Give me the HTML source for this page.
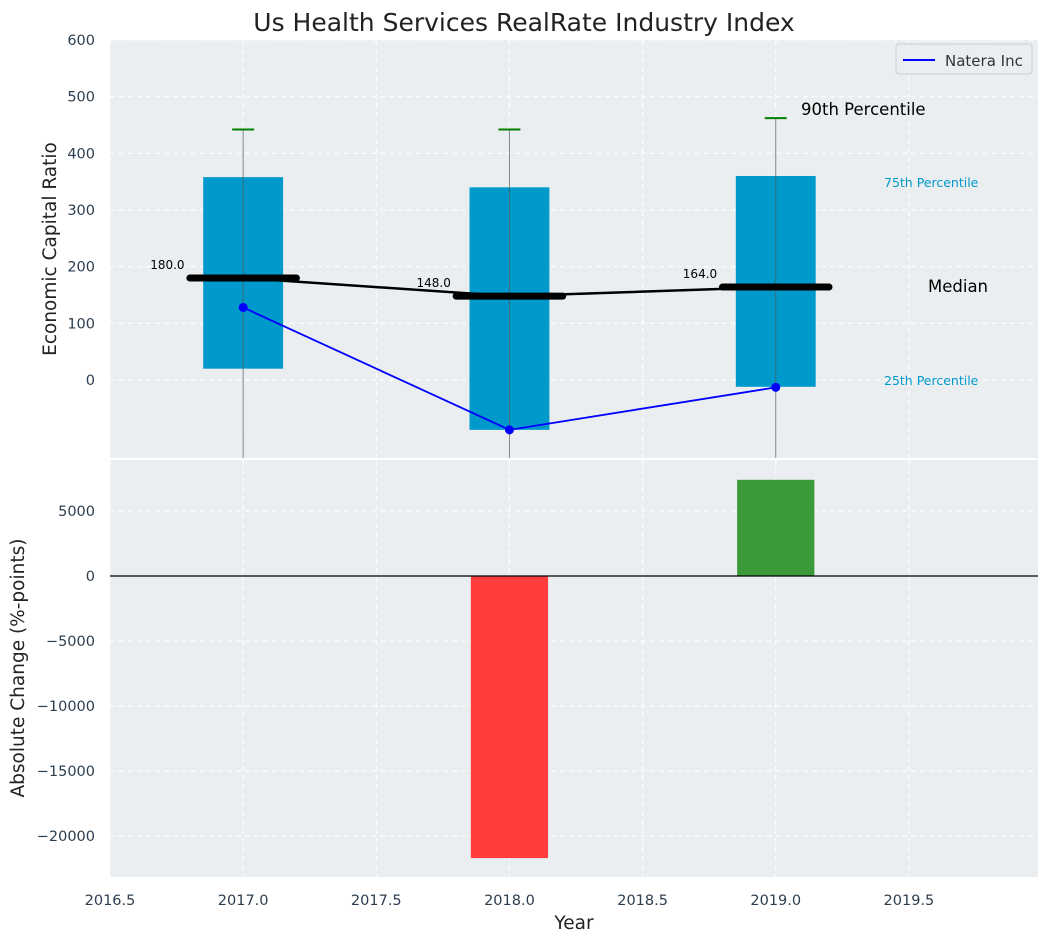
<!DOCTYPE html>
<html><head><meta charset="utf-8"><style>
body{margin:0;background:#fff;font-family:"Liberation Sans","DejaVu Sans",sans-serif;}
</style></head><body>
<svg id="chart" width="1048" height="942" xmlns="http://www.w3.org/2000/svg" font-family="DejaVu Sans, Liberation Sans, sans-serif">
<text x="524" y="31" text-anchor="middle" font-size="25" fill="#222">Us Health Services RealRate Industry Index</text>
<rect x="110" y="40" width="928" height="418" fill="#ebeef0"/>
<rect x="110" y="460" width="928" height="417" fill="#ebeef0"/>
<g id="top"></g><g id="bot"></g>
<text x="56" y="249" transform="rotate(-90 56 249)" text-anchor="middle" font-size="18.5" fill="#222">Economic Capital Ratio</text>
<text x="24" y="668" transform="rotate(-90 24 668)" text-anchor="middle" font-size="18.5" fill="#222">Absolute Change (%-points)</text>
<text x="574" y="929" text-anchor="middle" font-size="18.5" fill="#222">Year</text>
<g>
<rect x="896" y="44" width="136" height="30" rx="3" fill="#ebeef0" stroke="#ccc"/>
<line x1="903" y1="60" x2="935" y2="60" stroke="blue" stroke-width="2"/>
<text x="945" y="66" font-size="15" fill="#333">Natera Inc</text>
</g>
</svg>
<script>
const years=[2017,2018,2019];
const p25=[20,-88,-12];
const p75=[358,340,360];
const p90=[442,442,462];
const medians=[180,148,164];
const natera=[128,-88,-13];
const changeYears=[2018,2019];
const changes=[-21700,7400];
const xTicks=[2016.5,2017,2017.5,2018,2018.5,2019,2019.5];
const topTicks=[0,100,200,300,400,500,600];
const botTicks=[-20000,-15000,-10000,-5000,0,5000];
const NS="http://www.w3.org/2000/svg";
const X=v=>110+(v-2016.5)*266.3;
const YT=v=>380-v*0.5667;
const YB=v=>576-v*0.013;
function mk(parent,tag,attrs,text){const e=document.createElementNS(NS,tag);for(const k in attrs)e.setAttribute(k,attrs[k]);if(text!==undefined)e.textContent=text;document.getElementById(parent).appendChild(e);return e;}
xTicks.forEach(t=>{
 let g=mk('top','line',{x1:X(t),x2:X(t),y1:40,y2:458,stroke:'#fff','stroke-dasharray':'5,4','stroke-width':1});
 
 g=mk('bot','line',{x1:X(t),x2:X(t),y1:460,y2:877,stroke:'#fff','stroke-dasharray':'5,4','stroke-width':1});
 
 const l=mk('bot','text',{x:X(t),y:905,'text-anchor':'middle','font-size':14.5,fill:'#2c3e50'},t.toFixed(1));
 
});
topTicks.forEach(t=>{
 const g=mk('top','line',{x1:110,x2:1038,y1:YT(t),y2:YT(t),stroke:'#fff','stroke-dasharray':'5,4'});
 
 const l=mk('top','text',{x:95,y:YT(t)+5,'text-anchor':'end','font-size':14.5,fill:'#2c3e50'},t);
 
});
botTicks.forEach(t=>{
 const g=mk('bot','line',{x1:110,x2:1038,y1:YB(t),y2:YB(t),stroke:'#fff','stroke-dasharray':'5,4'});
 
 const l=mk('bot','text',{x:95,y:YB(t)+5,'text-anchor':'end','font-size':14.5,fill:'#2c3e50'},t===0?'0':(t<0?'\u2212'+(-t):t));
 
});
years.forEach((y,i)=>{
 const b=mk('top','rect',{x:X(y-0.15),width:X(y+0.15)-X(y-0.15),y:YT(p75[i]),height:YT(p25[i])-YT(p75[i]),fill:'#0099cc'});
 
 const w=mk('top','line',{x1:X(y),x2:X(y),y1:YT(p90[i]),y2:458,stroke:'#555','stroke-width':1,'stroke-opacity':0.7});
 
 const c=mk('top','line',{x1:X(y)-11,x2:X(y)+11,y1:YT(p90[i]),y2:YT(p90[i]),stroke:'green','stroke-width':2});
 
});
const mp=mk('top','polyline',{points:years.map((y,i)=>X(y)+','+YT(medians[i])).join(' '),fill:'none',stroke:'#000','stroke-width':2.5});

years.forEach((y,i)=>{
 const m=mk('top','line',{x1:X(y-0.2),x2:X(y+0.2),y1:YT(medians[i]),y2:YT(medians[i]),stroke:'#000','stroke-width':7,'stroke-linecap':'round'});
 
 const t=mk('top','text',{x:X(y-0.22),y:YT(medians[i])-9,'text-anchor':'end','font-size':12,fill:'#000'},medians[i].toFixed(1));
 
});
const np=mk('top','polyline',{points:years.map((y,i)=>X(y)+','+YT(natera[i])).join(' '),fill:'none',stroke:'blue','stroke-width':1.8});

years.forEach((y,i)=>{
 const p=mk('top','circle',{cx:X(y),cy:YT(natera[i]),r:4.5,fill:'blue'});
 
});
const a1=mk('top','text',{x:801,y:115,'font-size':16.5,fill:'#000'},'90th Percentile');
const a2=mk('top','text',{x:884,y:187,'font-size':12.5,fill:'#0099cc'},'75th Percentile');
const a3=mk('top','text',{x:884,y:385,'font-size':12.5,fill:'#0099cc'},'25th Percentile');
const a4=mk('top','text',{x:928,y:292,'font-size':16.5,fill:'#000'},'Median');
changeYears.forEach((y,i)=>{
 const v=changes[i];
 const b=mk('bot','rect',{x:X(y-0.145),width:X(y+0.145)-X(y-0.145),y:Math.min(YB(v),YB(0)),height:Math.abs(YB(v)-YB(0)),fill:v<0?'#ff3d3d':'#3a9a3a'});
 
});
const z=mk('bot','line',{x1:110,x2:1038,y1:YB(0),y2:YB(0),stroke:'#000','stroke-width':1.2});

</script>
</body></html>
